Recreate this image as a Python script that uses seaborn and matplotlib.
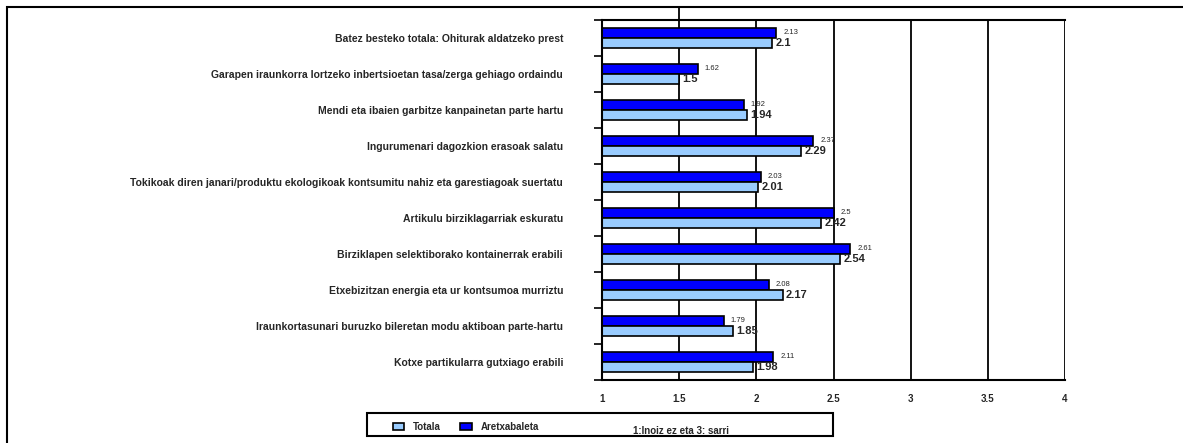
import pandas as pd
import numpy as np
from matplotlib import pyplot as plt
from matplotlib.patches import Rectangle
import seaborn as sns

# Data
categories = [
    "Batez besteko totala: Ohiturak aldatzeko prest",
    "Garapen iraunkorra lortzeko inbertsioetan tasa/zerga gehiago ordaindu",
    "Mendi eta ibaien garbitze kanpainetan parte hartu",
    "Ingurumenari dagozkion erasoak salatu",
    "Tokikoak diren janari/produktu ekologikoak kontsumitu nahiz eta garestiagoak suertatu",
    "Artikulu birziklagarriak eskuratu",
    "Birziklapen selektiborako kontainerrak erabili",
    "Etxebizitzan energia eta ur kontsumoa murriztu",
    "Iraunkortasunari buruzko bileretan modu aktiboan parte-hartu",
    "Kotxe partikularra gutxiago erabili",
]
aretxabaleta = [2.13, 1.62, 1.92, 2.37, 2.03, 2.5, 2.61, 2.08, 1.79, 2.11]
totala = [2.1, 1.5, 1.94, 2.29, 2.01, 2.42, 2.54, 2.17, 1.85, 1.98]
series_names = ["Aretxabaleta", "Totala"]
x_ticks = [1, 1.5, 2, 2.5, 3, 3.5, 4]
x_ticklabels = ["1", "1.5", "2", "2.5", "3", "3.5", "4"]
note = "1:Inoiz ez eta 3: sarri"

df = pd.DataFrame({
    "cat": categories * 2,
    "val": aretxabaleta + totala,
    "serie": [series_names[0]] * len(categories) + [series_names[1]] * len(categories),
})

sns.set_style("white")
plt.rcParams['font.family'] = ['Liberation Sans', 'DejaVu Sans']

W, H = 1183, 443
fig = plt.figure(figsize=(W / 100, H / 100), dpi=100)
ax = fig.add_axes([602 / W, 1 - 380 / H, 463 / W, 360 / H])

palette = {"Aretxabaleta": "#0000FF", "Totala": "#99CCFF"}
sns.barplot(data=df, y="cat", x="val", hue="serie", hue_order=series_names,
            palette=palette, orient="h", width=0.56, edgecolor="black",
            linewidth=1.2, saturation=1, legend=False, zorder=2, ax=ax)

ax.set_xlim(1, 4)
ax.set_ylim(len(categories) - 0.5, -0.5)

# value labels
ax.bar_label(ax.containers[0], fmt="%g", padding=5, fontsize=5.5)
ax.bar_label(ax.containers[1], fmt="%g", padding=2.5, fontsize=8, fontweight="bold")

# grid + spines
ax.set_xticks(x_ticks)
ax.set_xticklabels(x_ticklabels, fontsize=7, fontweight="bold")
for xv in x_ticks[1:]:
    ax.axvline(xv, color="black", lw=1.3, zorder=0.5)
# the 1.5 line runs on up to the frame in the original
ax.axvline(1.5, ymin=1, ymax=1 + 13 / 360, color="black", lw=1.3, clip_on=False)
for s in ["left", "bottom", "top"]:
    ax.spines[s].set_visible(True)
    ax.spines[s].set_color("black")
    ax.spines[s].set_linewidth(1.5)
ax.spines["right"].set_visible(False)
ax.tick_params(axis="x", direction="out", length=5, width=1.2, color="black", pad=5)

ax.set_yticks(range(len(categories)))
ax.set_yticklabels(categories, fontsize=7.5, fontweight="bold")
ax.tick_params(axis="y", which="major", length=0, pad=28)
ax.set_yticks(np.arange(len(categories) + 1) - 0.5, minor=True)
ax.tick_params(axis="y", which="minor", direction="out", length=6, width=1.2, color="black", left=True)
ax.set_xlabel("")
ax.set_ylabel("")

# legend box
fig.patches.append(Rectangle((367 / W, 1 - 436 / H), 466 / W, 23 / H,
                             transform=fig.transFigure, fill=False, edgecolor="black", lw=1.5))
handles = [Rectangle((0, 0), 1, 1, facecolor=palette["Totala"], edgecolor="black", lw=1.2),
           Rectangle((0, 0), 1, 1, facecolor=palette["Aretxabaleta"], edgecolor="black", lw=1.2)]
fig.legend(handles, ["Totala", "Aretxabaleta"], ncol=2, frameon=False,
           loc="center left", bbox_to_anchor=(384 / W, 1 - 427 / H),
           prop={"size": 7, "weight": "bold"}, handlelength=1.2, handleheight=0.7,
           columnspacing=2.0, handletextpad=0.9)
fig.text(633 / W, 1 - 431 / H, note, fontsize=7, fontweight="bold", va="center")

# outer frame
fig.patches.append(Rectangle((7 / W, -0.05), 1.1, 1.05 - 7 / H,
                             transform=fig.transFigure, fill=False, edgecolor="black", lw=1.5))

fig.savefig("out.png", dpi=100)
